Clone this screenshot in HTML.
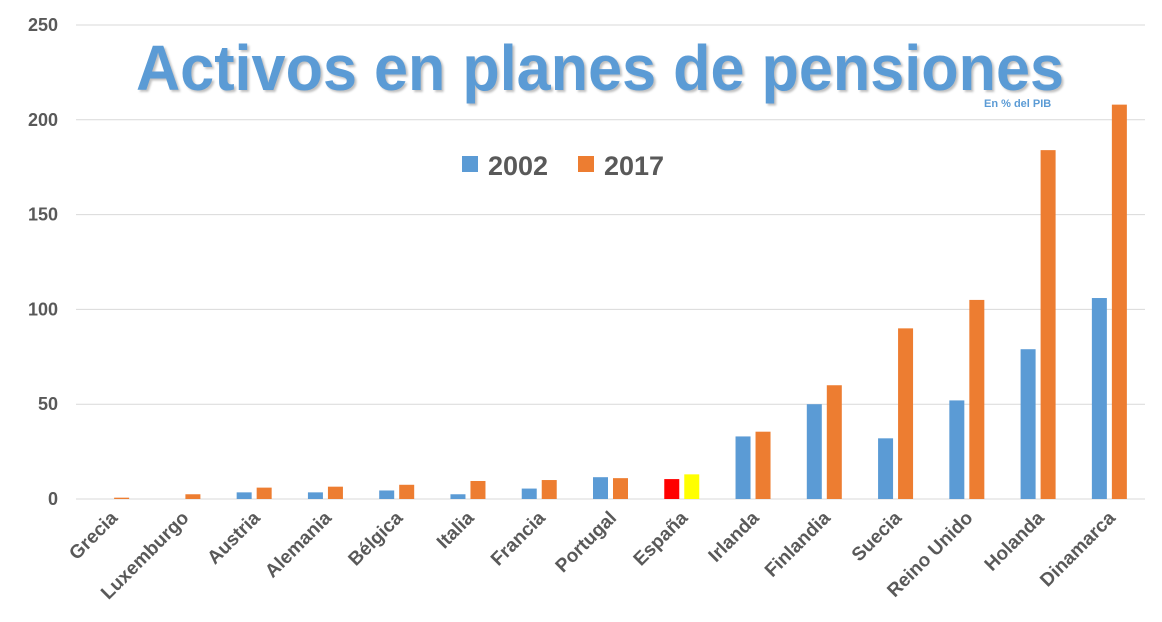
<!DOCTYPE html>
<html><head><meta charset="utf-8"><style>
body{margin:0;background:#fff;}
svg{display:block;font-family:"Liberation Sans",sans-serif;}
</style></head><body>
<svg id="chart" width="1162" height="622">
<g id="grid"></g><g id="bars"></g><g id="labels"></g>
<text x="600" y="90" text-anchor="middle" font-size="64" font-weight="bold" fill="#5b9bd5" textLength="928" lengthAdjust="spacingAndGlyphs" style="filter:drop-shadow(2px 2px 1px rgba(0,0,0,0.25))">Activos en planes de pensiones</text>
<text x="984" y="107" font-size="11" font-weight="bold" fill="#5b9bd5">En % del PIB</text>
<g>
<rect x="462" y="156" width="16" height="16" fill="#5b9bd5"/>
<text x="488" y="175" font-size="27" font-weight="bold" fill="#595959">2002</text>
<rect x="578" y="156" width="16" height="16" fill="#ed7d31"/>
<text x="604" y="175" font-size="27" font-weight="bold" fill="#595959">2017</text>
</g>
</svg>
<script>
const categories=["Grecia","Luxemburgo","Austria","Alemania","Bélgica","Italia","Francia","Portugal","España","Irlanda","Finlandia","Suecia","Reino Unido","Holanda","Dinamarca"];
const values2002=[0,0,3.5,3.5,4.5,2.5,5.5,11.5,10.5,33,50,32,52,79,106];
const values2017=[0.7,2.5,6,6.5,7.5,9.5,10,11,13,35.5,60,90,105,184,208];
const yTicks=[0,50,100,150,200,250];
const ns="http://www.w3.org/2000/svg";
const L=76,R=1145,T=25,B=499,yMax=250;
const y=v=>B-(v/yMax)*(B-T);
const step=(R-L)/categories.length;
const cx=i=>L+step*(i+0.5);
function mk(tag,a,parent){const e=document.createElementNS(ns,tag);for(const k in a)e.setAttribute(k,a[k]);document.getElementById(parent).appendChild(e);return e;}
yTicks.forEach(t=>{
 const l=mk("line",{x1:L,x2:R,y1:y(t),y2:y(t),stroke:"#d9d9d9","stroke-width":1},"grid");
 
 
 const tx=mk("text",{x:58,y:y(t)+6,"text-anchor":"end","font-size":18,"font-weight":"bold",fill:"#595959"},"grid");
 tx.textContent=t;
 
 
});
const bw=15;
categories.forEach((c,i)=>{
 const isEs=c==="España";
 const v1=values2002[i],v2=values2017[i];
 const b1=mk("rect",{x:cx(i)-10-bw/2,y:y(v1),width:bw,height:B-y(v1),fill:isEs?"#ff0000":"#5b9bd5"},"bars");
 
 
 const b2=mk("rect",{x:cx(i)+10-bw/2,y:y(v2),width:bw,height:B-y(v2),fill:isEs?"#ffff00":"#ed7d31"},"bars");
 
 
 const lx=cx(i)+7,ly=519;
 const t=mk("text",{x:lx,y:ly,"text-anchor":"end","font-size":19,"font-weight":"bold",fill:"#595959",transform:`rotate(-45 ${lx} ${ly})`},"labels");
 t.textContent=c;
 
 
});
</script>
</body></html>
